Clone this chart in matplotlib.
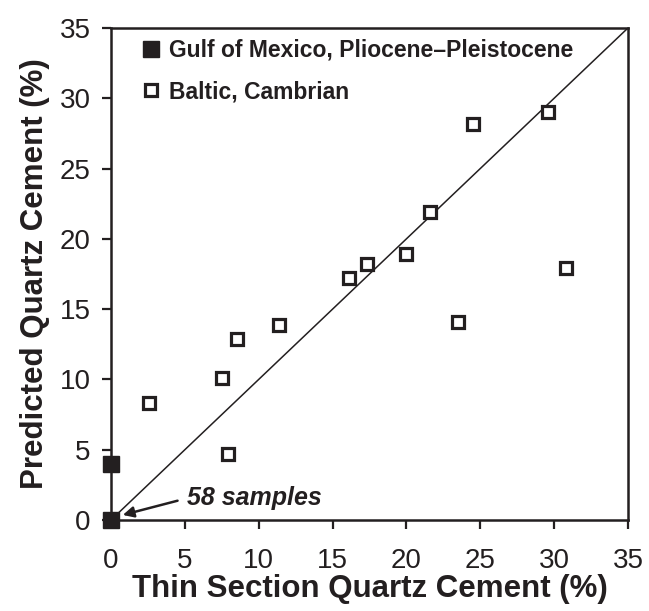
import matplotlib
matplotlib.use("Agg")
import matplotlib.pyplot as plt

plt.rcParams["font.family"] = ["Liberation Sans", "DejaVu Sans"]

# Gulf of Mexico, Pliocene-Pleistocene
gulf_thin = [0.0, 0.0]
gulf_pred = [0.0, 4.0]

# Baltic, Cambrian
baltic_thin = [2.6, 7.5, 7.9, 8.5, 11.4, 16.1, 17.3, 20.0, 21.6, 23.5, 24.5, 29.6, 30.8]
baltic_pred = [8.3, 10.1, 4.7, 12.9, 13.9, 17.2, 18.2, 18.9, 21.9, 14.1, 28.2, 29.0, 17.9]

ticks = [0, 5, 10, 15, 20, 25, 30, 35]
INK = "#231f20"

fig = plt.figure(figsize=(6.49, 6.11), dpi=100)
ax = fig.add_axes([0.171, 0.1489, 0.7966, 0.8053])

ax.plot([0, 35], [0, 35], color=INK, lw=1.1, zorder=1)
ax.plot(gulf_thin, gulf_pred, ls="none", marker="s", ms=12, mfc=INK,
        mec=INK, label="Gulf of Mexico, Pliocene\u2013Pleistocene",
        clip_on=False, zorder=3)
ax.plot(baltic_thin, baltic_pred, ls="none", marker="s", ms=8, mfc="white",
        mec=INK, mew=2.3, label="Baltic, Cambrian", zorder=3)

ax.annotate("58 samples", xy=(0.8, 0.36), xytext=(5.15, 1.55),
            fontsize=18, fontweight="bold", fontstyle="italic", color=INK,
            va="center", ha="left",
            arrowprops=dict(arrowstyle="-|>", color=INK, lw=1.8,
                            mutation_scale=16, relpos=(0, 0.5),
                            shrinkA=5, shrinkB=0))

ax.set_xlim(0, 35)
ax.set_ylim(0, 35)
ax.set_xticks(ticks)
ax.set_yticks(ticks)
ax.tick_params(direction="out", length=6.5, width=1.6, labelsize=20,
               colors=INK)
ax.tick_params(axis="x", pad=14)
ax.tick_params(axis="y", pad=8)
for s in ax.spines.values():
    s.set_linewidth(1.8)
    s.set_color(INK)

ax.set_xlabel("Thin Section Quartz Cement (%)", fontsize=22.5,
              fontweight="bold", color=INK, labelpad=0)
ax.set_ylabel("Predicted Quartz Cement (%)", fontsize=22.5,
              fontweight="bold", color=INK, labelpad=7)

leg = ax.legend(loc="upper left", bbox_to_anchor=(0, 1.036), frameon=False,
                prop={"weight": "bold", "size": 16.5}, handletextpad=0.3,
                handlelength=1.0, borderaxespad=0.85, borderpad=0.4,
                labelspacing=0.8)
for t in leg.get_texts():
    t.set_color(INK)

fig.savefig("out.png", dpi=100)
